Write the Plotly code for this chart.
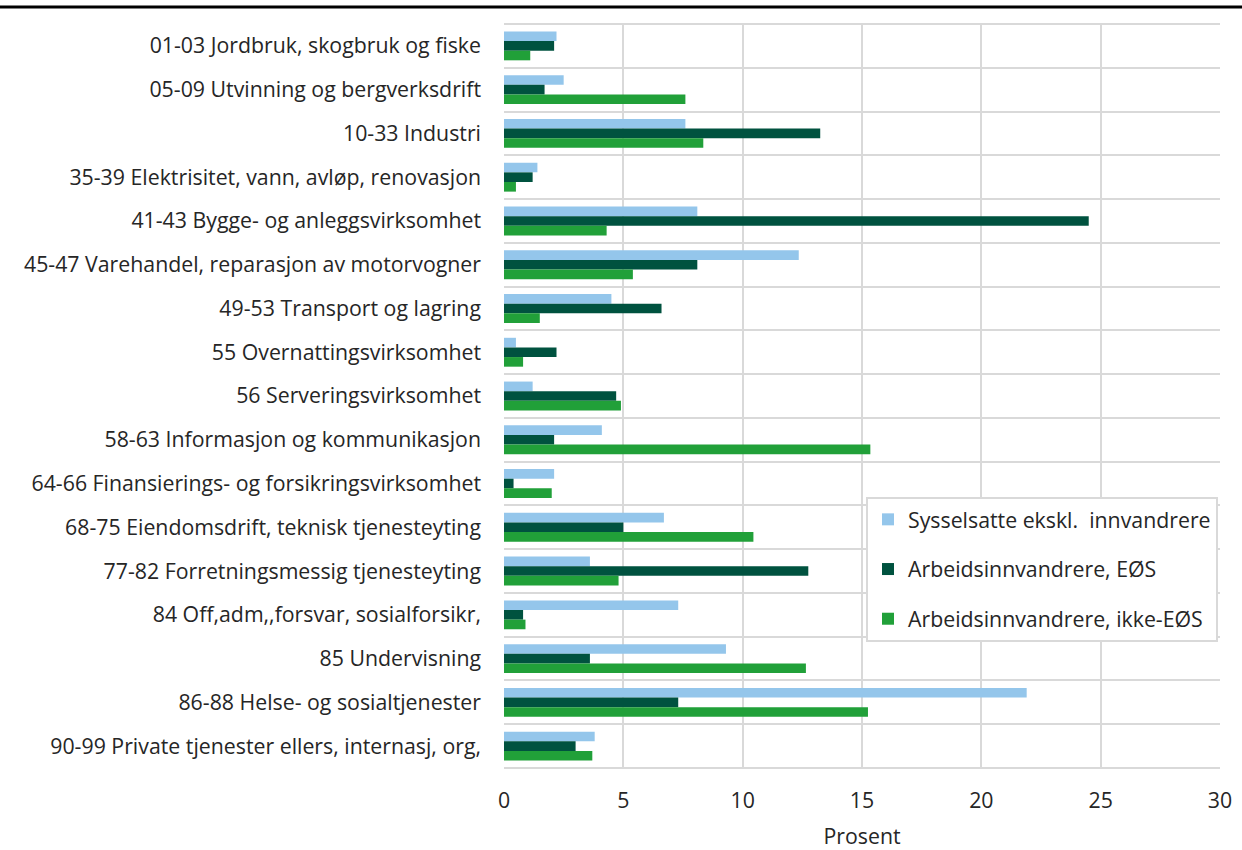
import plotly.graph_objects as go

categories = [
    "01-03 Jordbruk, skogbruk og fiske",
    "05-09 Utvinning og bergverksdrift",
    "10-33 Industri",
    "35-39 Elektrisitet, vann, avløp, renovasjon",
    "41-43 Bygge- og anleggsvirksomhet",
    "45-47 Varehandel, reparasjon av motorvogner",
    "49-53 Transport og lagring",
    "55 Overnattingsvirksomhet",
    "56 Serveringsvirksomhet",
    "58-63 Informasjon og kommunikasjon",
    "64-66 Finansierings- og forsikringsvirksomhet",
    "68-75 Eiendomsdrift, teknisk tjenesteyting",
    "77-82 Forretningsmessig tjenesteyting",
    "84 Off,adm,,forsvar, sosialforsikr,",
    "85 Undervisning",
    "86-88 Helse- og sosialtjenester",
    "90-99 Private tjenester ellers, internasj, org,",
]

series_names = [
    "Sysselsatte ekskl.  innvandrere",
    "Arbeidsinnvandrere, EØS",
    "Arbeidsinnvandrere, ikke-EØS",
]

sysselsatte = [2.2, 2.5, 7.6, 1.4, 8.1, 12.35, 4.5, 0.5, 1.2, 4.1, 2.1, 6.7, 3.6, 7.3, 9.3, 21.9, 3.8]
eos = [2.1, 1.7, 13.25, 1.2, 24.5, 8.1, 6.6, 2.2, 4.7, 2.1, 0.4, 5.0, 12.75, 0.8, 3.6, 7.3, 3.0]
ikke_eos = [1.1, 7.6, 8.35, 0.5, 4.3, 5.4, 1.5, 0.8, 4.9, 15.35, 2.0, 10.45, 4.8, 0.9, 12.65, 15.25, 3.7]

colors = ["#94C6EB", "#00523F", "#21A039"]

fig = go.Figure()
for i, (name, vals) in enumerate(zip(series_names, [sysselsatte, eos, ikke_eos])):
    fig.add_trace(go.Bar(
        y=categories, x=vals, name=name, orientation="h",
        marker=dict(color=colors[i], line=dict(width=0)),
        legendgroup=f"g{i}",
    ))

W, H = 1242, 850
L, T = 504, 24
R = W - 1220
B = H - 768
pw, ph = W - L - R, H - T - B

FS = 21.3
fig.update_layout(
    width=W, height=H,
    margin=dict(l=L, r=R, t=T, b=B, autoexpand=False),
    barmode="group",
    bargap=0.34,
    bargroupgap=0,
    plot_bgcolor="white",
    paper_bgcolor="white",
    font=dict(family="Open Sans", size=FS, color="#262626"),
    legend=dict(
        x=(866 - L) / pw, y=1 - (497 - T) / ph,
        xanchor="left", yanchor="top",
        bgcolor="white", bordercolor="#D9D9D9", borderwidth=2,
        font=dict(size=FS, color="#262626"),
        tracegroupgap=19,
        itemwidth=30,
        traceorder="grouped",
    ),
    xaxis=dict(
        range=[0, 30], dtick=5, showgrid=True, gridcolor="#D9D9D9", gridwidth=2,
        zeroline=False, showline=False, ticks="", automargin=False,
        ticklabelstandoff=18,
        title=dict(text="Prosent", font=dict(size=FS), standoff=20),
    ),
    yaxis=dict(
        autorange="reversed", tickson="boundaries", showgrid=True,
        gridcolor="#D9D9D9", gridwidth=2, ticks="", showline=False,
        ticklabelstandoff=22, automargin=False,
    ),
    shapes=[
        dict(type="line", xref="paper", yref="paper",
             x0=-L / pw, x1=(W - L) / pw,
             y0=1 + (T - 7) / ph, y1=1 + (T - 7) / ph,
             line=dict(color="black", width=3)),
        dict(type="line", xref="paper", yref="paper",
             x0=0, x1=1, y0=1, y1=1,
             line=dict(color="#D9D9D9", width=2)),
        dict(type="line", xref="paper", yref="paper",
             x0=0, x1=1, y0=0, y1=0,
             line=dict(color="#D9D9D9", width=2)),
    ],
)

fig.write_html(
    "out.html",
    config={"displayModeBar": False},
    post_script="document.body.style.margin='0';document.body.style.overflow='hidden';",
)
